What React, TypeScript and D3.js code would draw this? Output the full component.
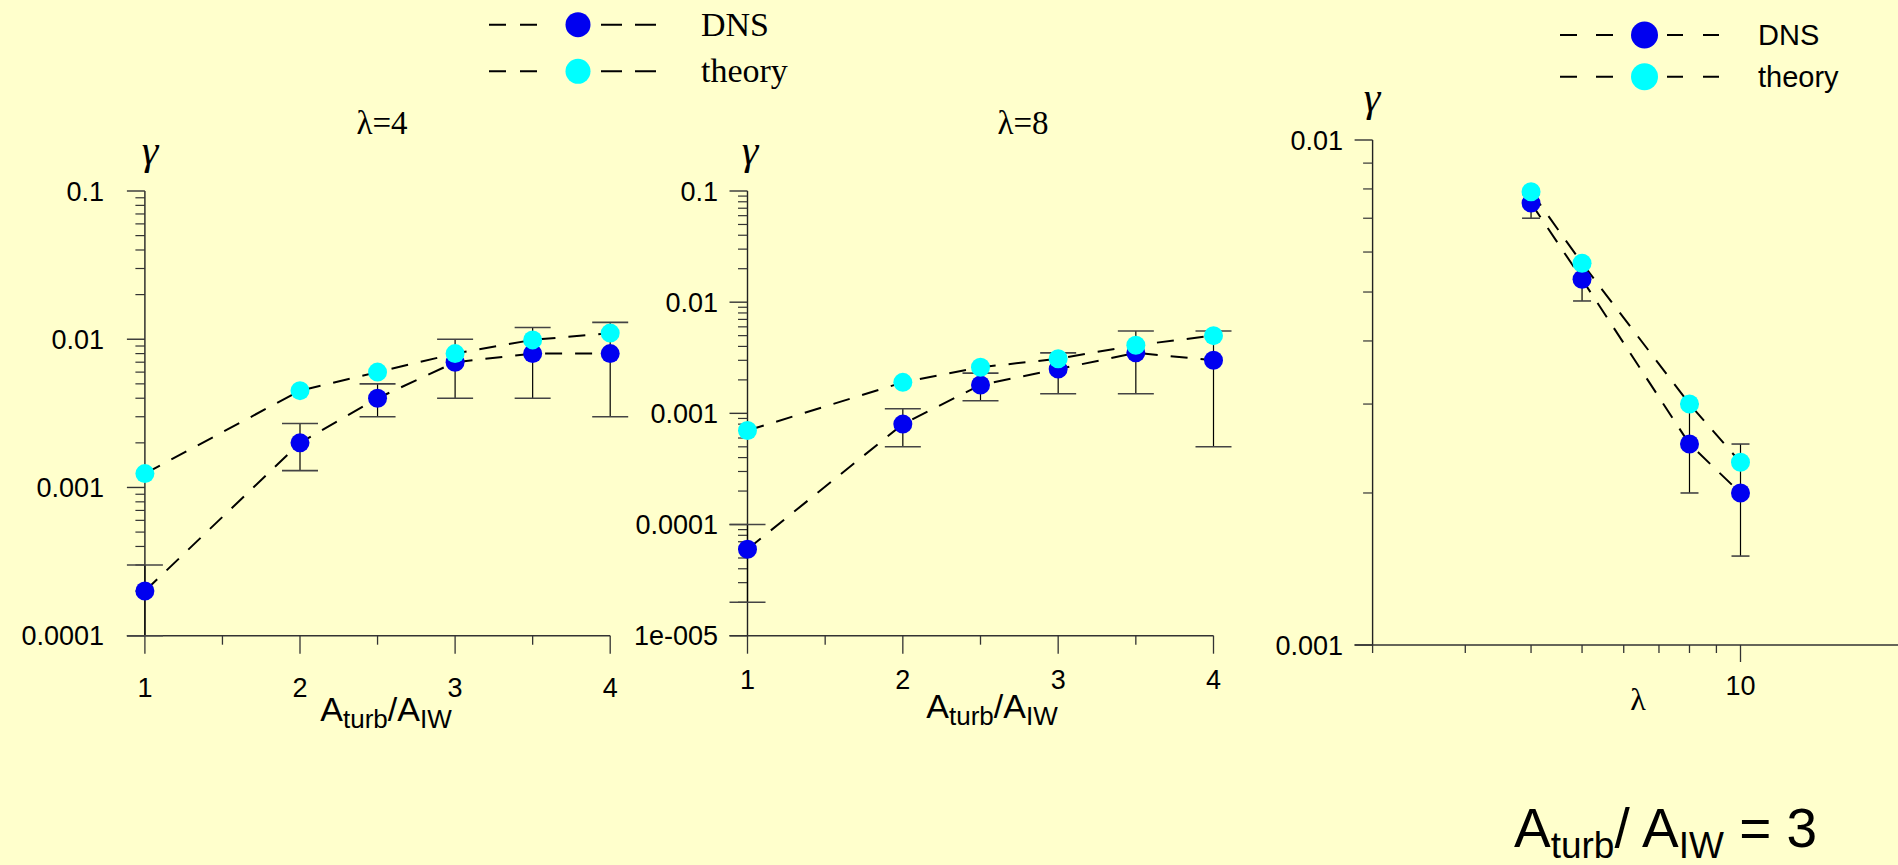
import React from 'react';
import * as d3 from 'd3';

const W = 1898;
const H = 865;

// ---- data ----
// Panel 1 (lambda = 4), x = A_turb / A_IW
const ratioX = [1, 2, 2.5, 3, 3.5, 4];
const p1Theory = [0.00124, 0.0045, 0.006, 0.008, 0.0099, 0.011];
const p1Dns = [0.0002, 0.002, 0.004, 0.007, 0.008, 0.008];
const p1DnsLow = [0.0001, 0.0013, 0.003, 0.004, 0.004, 0.003];
const p1DnsHigh = [0.0003, 0.0027, 0.005, 0.01, 0.012, 0.013];

// Panel 2 (lambda = 8)
const p2Theory = [0.0007, 0.0019, 0.0026, 0.0031, 0.0041, 0.005];
const p2Dns = [0.00006, 0.0008, 0.0018, 0.0025, 0.0035, 0.003];
const p2DnsLow = [0.00002, 0.0005, 0.0013, 0.0015, 0.0015, 0.0005];
const p2DnsHigh = [0.0001, 0.0011, 0.0023, 0.0035, 0.0055, 0.0055];

// Panel 3 (A_turb / A_IW = 3), x = lambda
const lambdaX = [4, 5, 8, 10];
const p3Theory = [0.0079, 0.0057, 0.003, 0.0023];
const p3Dns = [0.0075, 0.0053, 0.0025, 0.002];
const p3DnsLow = [0.007, 0.0048, 0.002, 0.0015];
const p3DnsHigh = [0.0078, 0.0057, 0.003, 0.0025];

// ticks
const ratioTicks = [1, 1.5, 2, 2.5, 3, 3.5, 4];
const ratioTickLabels = ['1', '2', '3', '4'];
const p1YMajor = [0.0001, 0.001, 0.01, 0.1];
const p1YLabels = ['0.0001', '0.001', '0.01', '0.1'];
const p2YMajor = [0.00001, 0.0001, 0.001, 0.01, 0.1];
const p2YLabels = ['1e-005', '0.0001', '0.001', '0.01', '0.1'];
const p3YMajor = [0.001, 0.01];
const p3YLabels = ['0.001', '0.01'];
const lambdaTicks = [2, 3, 4, 5, 6, 7, 8, 9, 10];
const lambdaTickLabels = ['10'];

const BG = '#FFFFCC';
const BLUE = '#0000F0';
const CYAN = '#00FFFF';
const SANS = '"Liberation Sans", Arial, sans-serif';
const SERIF = '"Liberation Serif", "Times New Roman", serif';

function minorTicks(majors: number[]) {
  const out: number[] = [];
  for (let i = 0; i < majors.length - 1; i++) {
    for (let k = 2; k <= 9; k++) out.push(majors[i] * k);
  }
  return out;
}

type PanelProps = {
  x: any;
  y: any;
  xs: number[];
  theory: number[];
  dns: number[];
  low: number[];
  high: number[];
  xTicks: number[];
  xLongTicks: number[];
  xLabelVals: number[];
  xLabels: string[];
  xLabelY: number;
  yMajor: number[];
  yLabels: string[];
  yLabelX: number;
  axisRight: number;
  capHalf: number;
  longTickX: number;
  shortTickX: number;
};

function Panel(p: PanelProps) {
  const [x0] = p.x.range();
  const [yBottom, yTop] = p.y.range();
  const line = d3
    .line<number>()
    .x((_, i) => p.x(p.xs[i]))
    .y((d) => p.y(d));
  const r = 9.5;
  const minors = minorTicks(p.yMajor);
  return (
    <g>
      {/* axes */}
      <line x1={x0} x2={x0} y1={yTop} y2={yBottom} stroke="#222" strokeWidth={1.4} />
      <line x1={x0 - 18} x2={p.axisRight} y1={yBottom} y2={yBottom} stroke="#333" strokeWidth={1.4} />
      {p.yMajor.map((v) => (
        <line key={'ym' + v} x1={x0 - 18} x2={x0} y1={p.y(v)} y2={p.y(v)} stroke="#333" strokeWidth={1.4} />
      ))}
      {minors.map((v) => (
        <line key={'yn' + v} x1={x0 - 9.5} x2={x0} y1={p.y(v)} y2={p.y(v)} stroke="#333" strokeWidth={1.2} />
      ))}
      {p.yMajor.map((v, i) => (
        <text key={'yl' + v} x={p.yLabelX} y={p.y(v)} dy="0.36em" textAnchor="end" fontFamily={SANS} fontSize={27} fill="#000">
          {p.yLabels[i]}
        </text>
      ))}
      {p.xTicks.map((v) => (
        <line
          key={'xt' + v}
          x1={p.x(v)}
          x2={p.x(v)}
          y1={yBottom}
          y2={yBottom + (p.xLongTicks.includes(v) ? p.longTickX : p.shortTickX)}
          stroke="#333"
          strokeWidth={1.3}
        />
      ))}
      {p.xLabelVals.map((v, i) => (
        <text key={'xl' + v} x={p.x(v)} y={p.xLabelY} textAnchor="middle" fontFamily={SANS} fontSize={27} fill="#000">
          {p.xLabels[i]}
        </text>
      ))}
      {/* dashed connecting lines */}
      <path d={line(p.dns) || ''} fill="none" stroke="#000" strokeWidth={2} strokeDasharray="17 13" />
      <path d={line(p.theory) || ''} fill="none" stroke="#000" strokeWidth={2} strokeDasharray="17 13" />
      {/* error bars */}
      {p.xs.map((xv, i) => (
        <g key={'eb' + i}>
          <line x1={p.x(xv)} x2={p.x(xv)} y1={p.y(p.low[i])} y2={p.y(p.high[i])} stroke="#000" strokeWidth={1.2} />
          <line x1={p.x(xv) - p.capHalf} x2={p.x(xv) + p.capHalf} y1={p.y(p.low[i])} y2={p.y(p.low[i])} stroke="#444" strokeWidth={1.6} />
          <line x1={p.x(xv) - p.capHalf} x2={p.x(xv) + p.capHalf} y1={p.y(p.high[i])} y2={p.y(p.high[i])} stroke="#444" strokeWidth={1.6} />
        </g>
      ))}
      {p.dns.map((v, i) => (
        <circle key={'d' + i} cx={p.x(p.xs[i])} cy={p.y(v)} r={r} fill={BLUE} />
      ))}
      {p.theory.map((v, i) => (
        <circle key={'t' + i} cx={p.x(p.xs[i])} cy={p.y(v)} r={r} fill={CYAN} />
      ))}
    </g>
  );
}

function LegendRow(props: { y: number; color: string; label: string; left: boolean }) {
  const { y, color, label, left } = props;
  if (left) {
    return (
      <g>
        <line x1={489} x2={537} y1={y} y2={y} stroke="#000" strokeWidth={2} strokeDasharray="17 14" />
        <line x1={601} x2={656} y1={y} y2={y} stroke="#000" strokeWidth={2} strokeDasharray="21 13" />
        <circle cx={578} cy={y} r={12.5} fill={color} />
        <text x={701} y={y + 11} fontFamily={SERIF} fontSize={34} fill="#000">
          {label}
        </text>
      </g>
    );
  }
  return (
    <g>
      <line x1={1560} x2={1615} y1={y} y2={y} stroke="#000" strokeWidth={2} strokeDasharray="17 19" />
      <line x1={1667} x2={1721} y1={y} y2={y} stroke="#000" strokeWidth={2} strokeDasharray="16 20" />
      <circle cx={1644.5} cy={y} r={13.5} fill={color} />
      <text x={1758} y={y + 10} fontFamily={SANS} fontSize={29} fill="#000">
        {label}
      </text>
    </g>
  );
}

export default function App() {
  const x1 = d3.scaleLinear().domain([1, 4]).range([144.9, 610.2]);
  const y1 = d3.scaleLog().domain([0.0001, 0.1]).range([635.7, 191]);
  const x2 = d3.scaleLinear().domain([1, 4]).range([747.5, 1213.5]);
  const y2 = d3.scaleLog().domain([0.00001, 0.1]).range([635.7, 191]);
  const x3 = d3.scaleLog().domain([2, 10]).range([1372.6, 1740.5]);
  const y3 = d3.scaleLog().domain([0.001, 0.01]).range([645, 140]);

  return (
    <div style={{ position: 'fixed', left: 0, top: 0, width: W, height: H, background: BG }}>
      <svg width={W} height={H} style={{ display: 'block' }}>
        <rect x={0} y={0} width={W} height={H} fill={BG} />

        {/* legends */}
        <LegendRow y={24.7} color={BLUE} label="DNS" left={true} />
        <LegendRow y={71.3} color={CYAN} label="theory" left={true} />
        <LegendRow y={35} color={BLUE} label="DNS" left={false} />
        <LegendRow y={76.7} color={CYAN} label="theory" left={false} />

        {/* titles */}
        <text x={382} y={134} textAnchor="middle" fontFamily={SERIF} fontSize={33}>λ=4</text>
        <text x={1023} y={134} textAnchor="middle" fontFamily={SERIF} fontSize={33}>λ=8</text>

        {/* gamma labels */}
        <text x={150} y={164} textAnchor="middle" fontFamily={SERIF} fontStyle="italic" fontSize={42}>γ</text>
        <text x={750} y={164} textAnchor="middle" fontFamily={SERIF} fontStyle="italic" fontSize={42}>γ</text>
        <text x={1372} y={111} textAnchor="middle" fontFamily={SERIF} fontStyle="italic" fontSize={42}>γ</text>

        <Panel
          x={x1}
          y={y1}
          xs={ratioX}
          theory={p1Theory}
          dns={p1Dns}
          low={p1DnsLow}
          high={p1DnsHigh}
          xTicks={ratioTicks}
          xLongTicks={[1, 2, 3, 4]}
          xLabelVals={[1, 2, 3, 4]}
          xLabels={ratioTickLabels}
          xLabelY={697}
          yMajor={p1YMajor}
          yLabels={p1YLabels}
          yLabelX={104}
          axisRight={610.2}
          capHalf={18}
          longTickX={18}
          shortTickX={9}
        />
        <Panel
          x={x2}
          y={y2}
          xs={ratioX}
          theory={p2Theory}
          dns={p2Dns}
          low={p2DnsLow}
          high={p2DnsHigh}
          xTicks={ratioTicks}
          xLongTicks={[1, 2, 3, 4]}
          xLabelVals={[1, 2, 3, 4]}
          xLabels={ratioTickLabels}
          xLabelY={689}
          yMajor={p2YMajor}
          yLabels={p2YLabels}
          yLabelX={718}
          axisRight={1213.5}
          capHalf={18}
          longTickX={18}
          shortTickX={9}
        />
        <Panel
          x={x3}
          y={y3}
          xs={lambdaX}
          theory={p3Theory}
          dns={p3Dns}
          low={p3DnsLow}
          high={p3DnsHigh}
          xTicks={lambdaTicks}
          xLongTicks={[10]}
          xLabelVals={[10]}
          xLabels={lambdaTickLabels}
          xLabelY={695}
          yMajor={p3YMajor}
          yLabels={p3YLabels}
          yLabelX={1343}
          axisRight={W}
          capHalf={9}
          longTickX={17}
          shortTickX={8}
        />

        {/* x axis titles */}
        <text x={386} y={721} textAnchor="middle" fontFamily={SANS} fontSize={34}>
          A<tspan fontSize={26} dy={7}>turb</tspan>
          <tspan dy={-7}>/A</tspan>
          <tspan fontSize={26} dy={7}>IW</tspan>
        </text>
        <text x={992} y={718} textAnchor="middle" fontFamily={SANS} fontSize={34}>
          A<tspan fontSize={26} dy={7}>turb</tspan>
          <tspan dy={-7}>/A</tspan>
          <tspan fontSize={26} dy={7}>IW</tspan>
        </text>
        <text x={1638} y={710} textAnchor="middle" fontFamily={SERIF} fontSize={32}>λ</text>

        {/* big annotation */}
        <text x={1514} y={847} fontFamily={SANS} fontSize={55}>
          A<tspan fontSize={37} dy={11}>turb</tspan>
          <tspan dy={-11}>/ A</tspan>
          <tspan fontSize={37} dy={11}>IW</tspan>
          <tspan dy={-11}> = 3</tspan>
        </text>
      </svg>
    </div>
  );
}
